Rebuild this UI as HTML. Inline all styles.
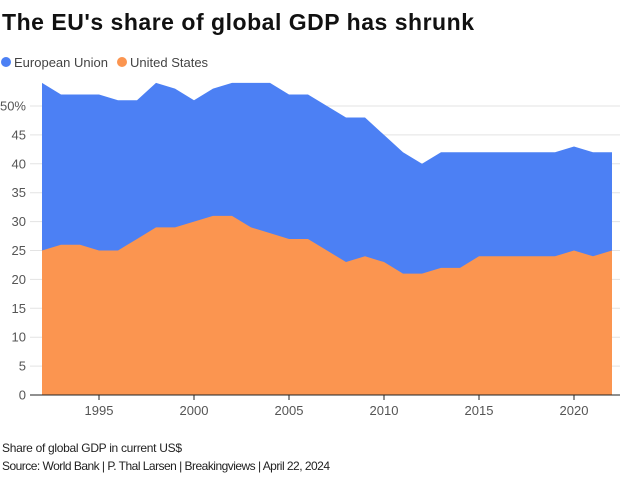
<!DOCTYPE html>
<html><head><meta charset="utf-8"><style>
body{margin:0;background:#fff;font-family:"Liberation Sans",sans-serif;}
#wrap{position:relative;width:624px;height:477px;overflow:hidden;}
</style></head><body>
<div id="wrap">
<svg id="chart" width="624" height="477" xmlns="http://www.w3.org/2000/svg">
<text x="2" y="30" font-size="23" font-weight="bold" fill="#111" textLength="472">The EU's share of global GDP has shrunk</text>
<g>
<circle cx="6" cy="62" r="5" fill="#4c80f4"/>
<text x="14" y="67" font-size="13" fill="#444">European Union</text>
<circle cx="122" cy="62" r="5" fill="#fb9550"/>
<text x="130" y="67" font-size="13" fill="#444">United States</text>
</g>
<g id="grid"></g><g id="areas"></g><g id="axes"></g>
<text x="2" y="452" font-size="12" fill="#222" textLength="180">Share of global GDP in current US$</text>
<text x="2" y="470" font-size="12" fill="#222" textLength="328">Source: World Bank | P. Thal Larsen | Breakingviews | April 22, 2024</text>
</svg>
</div>
<script>
const years=[1992,1993,1994,1995,1996,1997,1998,1999,2000,2001,2002,2003,2004,2005,2006,2007,2008,2009,2010,2011,2012,2013,2014,2015,2016,2017,2018,2019,2020,2021,2022];
const euValues=[54,52,52,52,51,51,54,53,51,53,54,54,54,52,52,50,48,48,45,42,40,42,42,42,42,42,42,42,43,42,42];
const usValues=[25,26,26,25,25,27,29,29,30,31,31,29,28,27,27,25,23,24,23,21,21,22,22,24,24,24,24,24,25,24,25];
const yTicks=[0,5,10,15,20,25,30,35,40,45,50];
const xTicks=[1995,2000,2005,2010,2015,2020];
const NS="http://www.w3.org/2000/svg";
const x=v=>42+(v-1992)*19;
const y=v=>395-v*5.78;
function mk(tag,attrs,parent){const e=document.createElementNS(NS,tag);for(const k in attrs)e.setAttribute(k,attrs[k]);parent.appendChild(e);return e;}
const grid=document.getElementById('grid'),areas=document.getElementById('areas'),axes=document.getElementById('axes');
yTicks.forEach(t=>{
 const l=mk('line',{x1:30,x2:620,y1:y(t),y2:y(t),stroke:'#e3e3e3','stroke-width':1},grid);
 
 
 const tx=mk('text',{x:26,y:y(t)+4.5,'font-size':13,fill:'#555','text-anchor':'end'},axes);
 tx.textContent=t===50?'50%':String(t);
 
 
});
function area(vals,color,name){
 let d='M'+x(years[0])+','+y(0);
 vals.forEach((v,i)=>d+=' L'+x(years[i])+','+y(v));
 d+=' L'+x(years[years.length-1])+','+y(0)+'Z';
 const p=mk('path',{d:d,fill:color},areas);
 
 
}
area(euValues,'#4c80f4','eu-area');
area(usValues,'#fb9550','us-area');
mk('line',{x1:30,x2:620,y1:y(0),y2:y(0),stroke:'#222'},axes);
xTicks.forEach(t=>{
 const l=mk('line',{x1:x(t),x2:x(t),y1:y(0),y2:y(0)+5,stroke:'#222'},axes);
 
 
 const tx=mk('text',{x:x(t),y:y(0)+20,'font-size':13,fill:'#555','text-anchor':'middle'},axes);
 tx.textContent=t;
 
 
});
</script>
</body></html>
